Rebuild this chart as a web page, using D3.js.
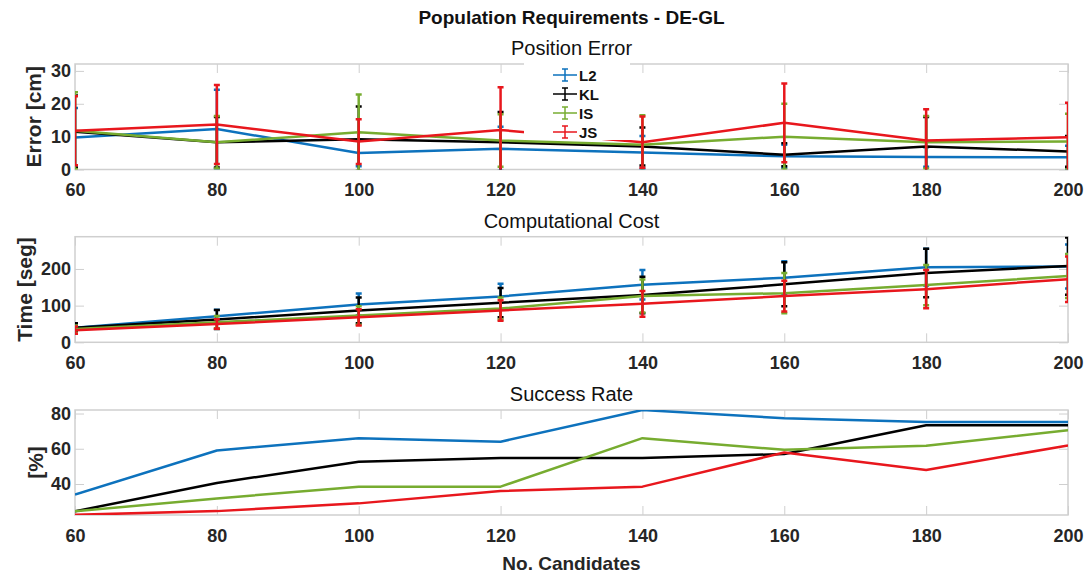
<!DOCTYPE html>
<html>
<head>
<meta charset="utf-8">
<script src="https://cdn.jsdelivr.net/npm/d3@7"></script>
<style>
  body { margin: 0; background: #fff; }
  svg { display: block; font-family: 'Liberation Sans', Arial, sans-serif; }
</style>
</head>
<body>
<div id="chart"></div>
<script>
// data
const candidates = [60, 80, 100, 120, 140, 160, 180, 200]
const methods = ['L2', 'KL', 'IS', 'JS']
const colors = ['#0d72bd', '#000000', '#77ac30', '#e8171d']

// position error [cm] (mean, std)
const errorL2 = [9.7, 12.3, 5.0, 6.3, 5.2, 4.0, 3.8, 3.7]
const errorKL = [11.5, 8.3, 9.2, 8.3, 7.0, 4.5, 7.0, 5.5]
const errorIS = [11.8, 8.3, 11.3, 8.8, 7.5, 10.0, 8.3, 8.5]
const errorJS = [11.8, 13.7, 8.5, 12.0, 8.3, 14.2, 8.8, 9.8]
const errorStdL2 = [9, 12, 4, 6.7, 5, 3.5, 3, 3.5]
const errorStdKL = [11, 7.7, 10, 9.2, 5.8, 3.5, 9, 4.7]
const errorStdIS = [11.7, 8, 11.5, 8, 9, 10, 8, 8.5]
const errorStdJS = [10.5, 12, 6.8, 13, 7.8, 12, 9.5, 10.5]

// computational cost [seg] (mean, std)
const timeL2 = [40, 71, 103, 125, 157, 176, 205, 207]
const timeKL = [40, 62, 87, 108, 129, 158, 189, 208]
const timeIS = [36, 55, 73, 92, 126, 134, 156, 181]
const timeJS = [33, 50, 68, 87, 105, 126, 145, 172]
const timeStdL2 = [10, 18, 30, 35, 40, 45, 50, 60]
const timeStdKL = [12, 26, 35, 40, 50, 60, 66, 78]
const timeStdIS = [10, 17, 25, 30, 45, 55, 55, 60]
const timeStdJS = [10, 13, 22, 28, 35, 42, 52, 62]

// success rate [%]
const rateL2 = [34, 59, 66, 64, 82, 77.3, 75.2, 75.2]
const rateKL = [24.5, 40.6, 52.6, 54.8, 54.8, 57, 73.3, 73.3]
const rateIS = [24.5, 31.8, 38.5, 38.5, 66, 59.4, 61.7, 70.5]
const rateJS = [22.5, 24.6, 29, 36, 38.5, 57.9, 48, 61.9]

// tick labels
const xTicks = [60, 80, 100, 120, 140, 160, 180, 200]
const errorTicks = [0, 10, 20, 30]
const timeTicks = [0, 100, 200]
const rateTicks = [40, 60, 80]

// size
const W = 1087
const H = 574
const left = 75
const right = 1068

const x = d3.scaleLinear().domain([60, 200]).range([left, right])

const svg = d3
  .select('#chart')
  .append('svg')
  .attr('width', W)
  .attr('height', H)

const panels = [
  {
    title: 'Position Error',
    ylabel: 'Error [cm]',
    top: 64,
    bottom: 169.5,
    domain: [0, 32.1],
    ticks: errorTicks,
    means: [errorL2, errorKL, errorIS, errorJS],
    stds: [errorStdL2, errorStdKL, errorStdIS, errorStdJS],
    labelX: 41,
    legend: true,
  },
  {
    title: 'Computational Cost',
    ylabel: 'Time [seg]',
    top: 236.7,
    bottom: 342.3,
    domain: [0, 288],
    ticks: timeTicks,
    means: [timeL2, timeKL, timeIS, timeJS],
    stds: [timeStdL2, timeStdKL, timeStdIS, timeStdJS],
    labelX: 32,
  },
  {
    title: 'Success Rate',
    ylabel: '[%]',
    top: 410,
    bottom: 515,
    domain: [22.4, 82],
    ticks: rateTicks,
    means: [rateL2, rateKL, rateIS, rateJS],
    labelX: 43,
  },
]

const boxColor = '#cfcfcf'
const tickColor = '#262626'

panels.forEach((p, pi) => {
  const y = d3.scaleLinear().domain(p.domain).range([p.bottom, p.top])
  const g = svg.append('g')

  const clipId = `clip-${pi}`
  svg
    .append('clipPath')
    .attr('id', clipId)
    .append('rect')
    .attr('x', left)
    .attr('y', p.top)
    .attr('width', right - left)
    .attr('height', p.bottom - p.top)

  // box
  g.append('rect')
    .attr('x', left)
    .attr('y', p.top)
    .attr('width', right - left)
    .attr('height', p.bottom - p.top)
    .attr('fill', 'none')
    .attr('stroke', boxColor)
    .attr('stroke-width', 1.5)

  // bottom axis (labels) + inward ticks on top and bottom
  const xAxis = g
    .append('g')
    .attr('transform', `translate(0, ${p.bottom})`)
    .call(d3.axisBottom(x).tickValues(xTicks).tickSize(0).tickPadding(14))
  xAxis.select('.domain').remove()
  xAxis
    .selectAll('text')
    .attr('fill', tickColor)
    .attr('font-size', '18px')
    .attr('font-weight', 'bold')
    .attr('font-family', "'Liberation Sans', Arial, sans-serif")

  g.append('g')
    .attr('transform', `translate(0, ${p.bottom})`)
    .call(d3.axisTop(x).tickValues(xTicks).tickSize(9).tickFormat(''))
    .call(a => a.select('.domain').remove())
    .selectAll('line')
    .attr('stroke', boxColor)
  g.append('g')
    .attr('transform', `translate(0, ${p.top})`)
    .call(d3.axisBottom(x).tickValues(xTicks).tickSize(9).tickFormat(''))
    .call(a => a.select('.domain').remove())
    .selectAll('line')
    .attr('stroke', boxColor)

  // y axis
  const yAxis = g
    .append('g')
    .attr('transform', `translate(${left}, 0)`)
    .call(d3.axisRight(y).tickValues(p.ticks).tickSize(9).tickFormat(''))
  yAxis.select('.domain').remove()
  yAxis.selectAll('line').attr('stroke', boxColor)
  g.append('g')
    .attr('transform', `translate(${left}, 0)`)
    .call(d3.axisLeft(y).tickValues(p.ticks).tickSize(0).tickPadding(4))
    .call(a => a.select('.domain').remove())
    .selectAll('text')
    .attr('fill', tickColor)
    .attr('font-size', '18px')
    .attr('font-weight', 'bold')
    .attr('font-family', "'Liberation Sans', Arial, sans-serif")
  g.append('g')
    .attr('transform', `translate(${right}, 0)`)
    .call(d3.axisLeft(y).tickValues(p.ticks).tickSize(9).tickFormat(''))
    .call(a => a.select('.domain').remove())
    .selectAll('line')
    .attr('stroke', boxColor)

  // title
  g.append('text')
    .attr('x', (left + right) / 2)
    .attr('y', p.top - 9)
    .attr('text-anchor', 'middle')
    .attr('font-size', '20px')
    .attr('fill', '#111')
    .text(p.title)

  // y label
  g.append('text')
    .attr('text-anchor', 'middle')
    .attr('font-size', '21px')
    .attr('font-weight', 'bold')
    .attr('fill', tickColor)
    .attr(
      'transform',
      `translate(${p.labelX}, ${(p.top + p.bottom) / 2}) rotate(-90)`,
    )
    .text(p.ylabel)

  // series
  const plot = g.append('g').attr('clip-path', `url(#${clipId})`)
  const line = d3
    .line()
    .x((d, i) => x(candidates[i]))
    .y(d => y(d))

  p.means.forEach((vals, si) => {
    plot
      .append('path')
      .datum(vals)
      .attr('fill', 'none')
      .attr('stroke', colors[si])
      .attr('stroke-width', 2.5)
      .attr('stroke-linejoin', 'round')
      .attr('d', line)

    if (p.stds) {
      const bars = plot
        .append('g')
        .selectAll('g')
        .data(vals.map((v, i) => ({ v, s: p.stds[si][i], c: candidates[i] })))
        .join('g')
        .attr('stroke', colors[si])
        .attr('stroke-width', 2.5)

      bars
        .append('line')
        .attr('x1', d => x(d.c))
        .attr('x2', d => x(d.c))
        .attr('y1', d => y(d.v - d.s))
        .attr('y2', d => y(d.v + d.s))
      bars
        .append('line')
        .attr('x1', d => x(d.c) - 3)
        .attr('x2', d => x(d.c) + 3)
        .attr('y1', d => y(d.v - d.s))
        .attr('y2', d => y(d.v - d.s))
      bars
        .append('line')
        .attr('x1', d => x(d.c) - 3)
        .attr('x2', d => x(d.c) + 3)
        .attr('y1', d => y(d.v + d.s))
        .attr('y2', d => y(d.v + d.s))
    }
  })

  // legend
  if (p.legend) {
    const legend = g.append('g')
    legend
      .append('rect')
      .attr('x', 524)
      .attr('y', 62)
      .attr('width', 106)
      .attr('height', 78)
      .attr('fill', '#fff')

    methods.forEach((m, i) => {
      const row = legend
        .append('g')
        .attr('transform', `translate(553, ${75 + 19 * i})`)
        .attr('stroke', colors[i])
        .attr('stroke-width', 1.5)
      row.append('line').attr('x1', 0).attr('x2', 24)
      row.append('line').attr('x1', 12).attr('x2', 12).attr('y1', -6).attr('y2', 6)
      row.append('line').attr('x1', 9).attr('x2', 15).attr('y1', -6).attr('y2', -6)
      row.append('line').attr('x1', 9).attr('x2', 15).attr('y1', 6).attr('y2', 6)

      legend
        .append('text')
        .attr('x', 579)
        .attr('y', 75 + 19 * i + 5.5)
        .attr('font-size', '15px')
        .attr('font-weight', 'bold')
        .attr('fill', '#111')
        .text(m)
    })
  }
})

// main title
svg
  .append('text')
  .attr('x', (left + right) / 2)
  .attr('y', 24)
  .attr('text-anchor', 'middle')
  .attr('font-size', '19px')
  .attr('font-weight', 'bold')
  .attr('fill', '#111')
  .text('Population Requirements - DE-GL')

// x label
svg
  .append('text')
  .attr('x', (left + right) / 2)
  .attr('y', 570)
  .attr('text-anchor', 'middle')
  .attr('font-size', '19px')
  .attr('font-weight', 'bold')
  .attr('fill', tickColor)
  .text('No. Candidates')
</script>
</body>
</html>
